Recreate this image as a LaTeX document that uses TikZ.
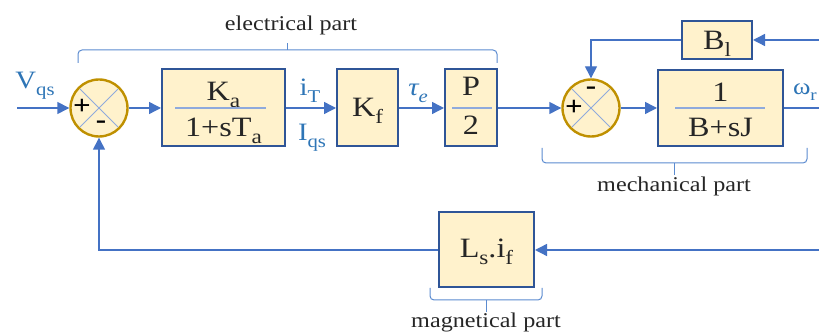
\documentclass[tikz,border=0pt]{standalone}
\usepackage{fontspec}
\usepackage{graphicx}
\setmainfont{Liberation Serif}[FakeStretch=1.15]
\usetikzlibrary{arrows.meta}
\definecolor{lineblue}{HTML}{4472C4}
\definecolor{boxblue}{HTML}{2F5597}
\definecolor{boxfill}{HTML}{FFF2CC}
\definecolor{gold}{HTML}{BF9000}
\definecolor{crossblue}{HTML}{8FAADC}
\definecolor{lblblue}{HTML}{2E75B6}
\definecolor{brcblue}{HTML}{5B8BD0}
\definecolor{txtdark}{HTML}{262626}
\newcommand\sbx[1]{\raisebox{-0.25em}{\scalebox{0.72}{#1}}}
\begin{document}
\begin{tikzpicture}[x=1pt,y=-1pt,
 blk/.style={draw=boxblue, line width=2pt, fill=boxfill, inner sep=0pt},
 sumnode/.style={circle, draw=gold, line width=2.4pt, fill=boxfill, minimum size=57pt, inner sep=0pt},
 conn/.style={draw=lineblue, line width=1.4pt},
 arr/.style={conn, -{Triangle[length=12pt,width=12pt]}},
 big/.style={font=\fontsize{28}{32}\selectfont, inner sep=0pt, anchor=base, text=txtdark},
 lbl/.style={font=\fontsize{21}{24}\selectfont, inner sep=0pt, anchor=base, text=txtdark},
 sig/.style={font=\fontsize{25}{28}\selectfont, text=lblblue, inner sep=0pt, anchor=base},
 brc/.style={draw=brcblue, line width=1pt, rounded corners=4pt},
 fracln/.style={draw=crossblue, line width=1.2pt},
 crs/.style={draw=crossblue, line width=1pt},
 sign/.style={font=\bfseries\fontsize{27}{30}\selectfont, inner sep=0pt, text=black}
]
\useasboundingbox (0,0) rectangle (819,336);

% blocks and summing junctions
\node[sumnode] (s1) at (99,108) {};
\node[blk, minimum width=123pt, minimum height=77pt] (ka) at (223.5,108) {};
\node[blk, minimum width=61pt, minimum height=77pt] (kf) at (367.5,108) {};
\node[blk, minimum width=52pt, minimum height=77pt] (p2) at (471,108) {};
\node[sumnode] (s2) at (591,108) {};
\node[blk, minimum width=70pt, minimum height=38pt] (bl) at (717,40) {};
\node[blk, minimum width=125pt, minimum height=76pt] (bsj) at (720.5,108) {};
\node[blk, minimum width=95pt, minimum height=75pt] (ls) at (486.5,250) {};

% crosses in summing junctions
\draw[crs] ([shift={(45:27)}]s1.center) -- ([shift={(225:27)}]s1.center);
\draw[crs] ([shift={(135:27)}]s1.center) -- ([shift={(315:27)}]s1.center);
\draw[crs] ([shift={(45:27)}]s2.center) -- ([shift={(225:27)}]s2.center);
\draw[crs] ([shift={(135:27)}]s2.center) -- ([shift={(315:27)}]s2.center);
\node[sign] (p1) at (82,107) {+};
\node[sign] (m1) at (101,125) {-};
\node[sign] (p2s) at (574,108) {+};
\node[sign] (m2) at (591,91) {-};

% block contents
\node[big] (kat) at (223.5,101) {K\sbx{a}};
\node[big] (kab) at (223.5,137) {1+sT\sbx{a}};
\draw[fracln] (175,108) -- (266,108);
\node[big] (kft) at (367.5,117) {K\sbx{f}};
\node[big] (pt) at (471,96) {P};
\node[big] (pb) at (471,135) {2};
\draw[fracln] (452,108) -- (492,108);
\node[big] (blt) at (717,50) {B\sbx{l}};
\node[big] (bst) at (720.5,102) {1};
\node[big] (bsb) at (720.5,137) {B+sJ};
\draw[fracln] (675,108) -- (765,108);
\node[big] (lst) at (486.5,258) {L\sbx{s}.i\sbx{f}};

% signal labels
\node[sig] (vqs) at (35,89) {V\sbx{qs}};
\node[sig] (it) at (310,96) {i\sbx{T}};
\node[sig] (iqs) at (312,141) {I\sbx{qs}};
\node[sig] (tau) at (418,96) {\itshape τ\sbx{e}};
\node[sig, anchor=base east, font=\fontsize{23}{26}\selectfont] (wr) at (817,95) {ω\sbx{r}};

% part labels and braces
\node[lbl] (elec) at (291,31) {electrical part};
\node[lbl] (mech) at (674,192) {mechanical part};
\node[lbl] (magn) at (486,328) {magnetical part};
\draw[brc] (78,63) |- (287,50) -| (497,63);
\draw[brc] (287,50) -- (287,43);
\draw[brc] (542,148) |- (674,163) -| (807,148);
\draw[brc] (674,163) -- (674,175);
\draw[brc] (430,288) |- (486,300) -| (542,288);
\draw[brc] (486,300) -- (486,312);

% connectors
\coordinate (vin) at (17,108);
\coordinate (wout) at (819,108);
\coordinate (rtop) at (819,40);
\coordinate (rbot) at (819,250);
\draw[arr] (vin) -- (s1);
\draw[arr] (s1) -- (ka);
\draw[arr] (ka) -- (kf);
\draw[arr] (kf) -- (p2);
\draw[arr] (p2) -- (s2);
\draw[arr] (s2) -- (bsj);
\draw[conn] (bsj) -- (wout);
\draw[arr] (rtop) -- (bl);
\draw[arr] (bl.west) -| (s2.north);
\draw[arr] (rbot) -- (ls);
\draw[arr] (ls.west) -| (s1.south);
\end{tikzpicture}
\end{document}
